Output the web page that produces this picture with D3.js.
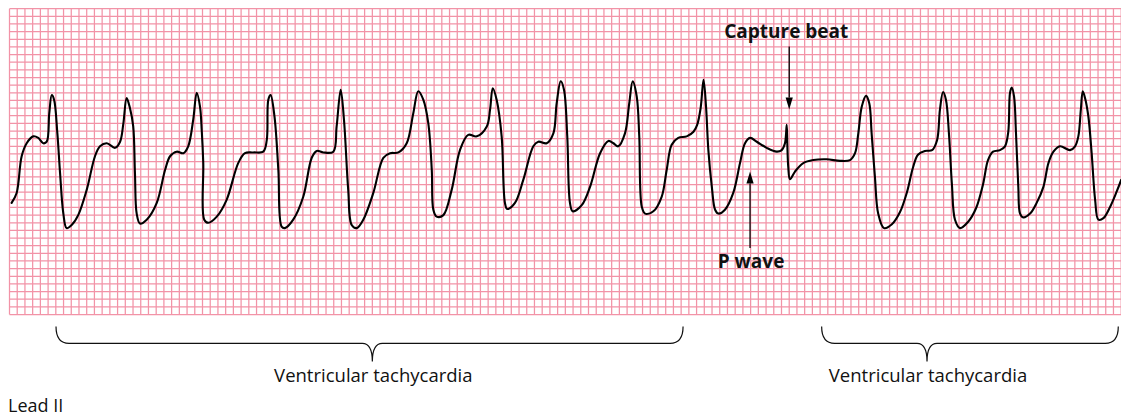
<!DOCTYPE html>
<html>
<head>
<meta charset="utf-8">
<script src="https://cdn.jsdelivr.net/npm/d3@7"></script>
<style>
  html, body { margin: 0; padding: 0; background: #ffffff; }
  svg { display: block; }
  text { font-family: "Open Sans", "Noto Sans", sans-serif; fill: #111; }
</style>
</head>
<body>
<script>
// Lead II rhythm strip: time in seconds (25 mm/s paper), amplitude in mV (10 mm/mV)
const leadII_time = [
  0.011, 0.037, 0.063, 0.089, 0.123, 0.149, 0.175, 0.193, 0.206, 0.219, 0.231, 0.248, 0.262, 0.279, 0.296, 0.322, 0.356,
  0.400, 0.443, 0.469, 0.504, 0.547, 0.573, 0.590, 0.607, 0.624, 0.641, 0.650, 0.659, 0.676, 0.711, 0.763,
  0.806, 0.832, 0.866, 0.901, 0.926, 0.952, 0.970, 0.987, 0.996, 1.004, 1.009, 1.030, 1.074, 1.125,
  1.185, 1.220, 1.263, 1.315, 1.333, 1.341, 1.353, 1.373, 1.393, 1.410, 1.427,
  1.470, 1.522, 1.566, 1.592, 1.626, 1.678, 1.695, 1.716, 1.733, 1.755, 1.773, 1.799,
  1.833, 1.885, 1.937, 1.972, 2.015, 2.058, 2.092, 2.118, 2.144, 2.170, 2.188, 2.196, 2.213, 2.248,
  2.291, 2.334, 2.377, 2.421, 2.473, 2.490, 2.504, 2.524, 2.550, 2.567, 2.579, 2.619,
  2.662, 2.714, 2.740, 2.783, 2.818, 2.835, 2.856, 2.873, 2.890, 2.904, 2.918, 2.965,
  3.008, 3.060, 3.103, 3.129, 3.154, 3.189, 3.211, 3.229, 3.250, 3.263, 3.276, 3.293,
  3.336, 3.379, 3.405, 3.431, 3.465, 3.509, 3.544, 3.563, 3.581, 3.596, 3.609, 3.621, 3.639, 3.656, 3.673,
  3.707, 3.750, 3.785, 3.811, 3.837, 3.872, 3.923, 3.975, 4.001, 4.018, 4.027, 4.030, 4.035, 4.044,
  4.070, 4.113, 4.165, 4.234, 4.303, 4.355, 4.381, 4.398, 4.416, 4.438, 4.455, 4.467, 4.484, 4.501,
  4.531, 4.572, 4.614, 4.650, 4.681, 4.707, 4.743, 4.780, 4.806, 4.821, 4.837, 4.852, 4.868, 4.883, 4.899,
  4.925, 4.966, 5.008, 5.044, 5.070, 5.096, 5.132, 5.158, 5.175, 5.184, 5.193, 5.205, 5.215, 5.227, 5.236,
  5.253, 5.288, 5.322, 5.357, 5.383, 5.409, 5.443, 5.495, 5.521, 5.538, 5.551, 5.561, 5.573, 5.590, 5.607,
  5.625, 5.642, 5.668, 5.703, 5.737, 5.760
];
const leadII_mV = [
  -0.54, -0.41, 0.07, 0.24, 0.33, 0.31, 0.24, 0.26, 0.63, 0.87, 0.81, 0.37, -0.15, -0.68, -0.87, -0.83, -0.70,
  -0.37, 0.07, 0.20, 0.24, 0.18, 0.26, 0.50, 0.83, 0.70, 0.46, -0.15, -0.68, -0.81, -0.76, -0.54,
  -0.11, 0.07, 0.13, 0.11, 0.20, 0.55, 0.90, 0.72, 0.41, -0.02, -0.76, -0.80, -0.72, -0.50,
  -0.02, 0.11, 0.12, 0.13, 0.28, 0.81, 0.87, 0.59, -0.11, -0.85, -0.87,
  -0.76, -0.46, 0.05, 0.14, 0.12, 0.13, 0.46, 0.94, 0.55, -0.37, -0.83, -0.87,
  -0.76, -0.41, 0.05, 0.11, 0.12, 0.24, 0.63, 0.92, 0.81, 0.50, -0.11, -0.63, -0.72, -0.70,
  -0.37, 0.15, 0.35, 0.33, 0.46, 0.68, 0.96, 0.81, 0.33, -0.54, -0.62, -0.54,
  -0.24, 0.20, 0.26, 0.24, 0.37, 0.76, 1.05, 0.94, 0.33, -0.54, -0.65, -0.57,
  -0.33, 0.11, 0.27, 0.24, 0.20, 0.37, 0.76, 1.05, 0.85, 0.33, -0.59, -0.68,
  -0.65, -0.46, -0.11, 0.22, 0.31, 0.33, 0.39, 0.48, 0.70, 1.07, 0.72, 0.15, -0.33, -0.63, -0.68,
  -0.63, -0.41, -0.02, 0.24, 0.31, 0.26, 0.18, 0.13, 0.15, 0.24, 0.48, 0.24, -0.07, -0.23,
  -0.13, -0.02, 0.02, 0.03, 0.01, 0.02, 0.11, 0.37, 0.72, 0.86, 0.76, 0.37, -0.20, -0.68,
  -0.87, -0.82, -0.66, -0.40, -0.08, 0.09, 0.14, 0.15, 0.28, 0.68, 0.91, 0.81, 0.35, -0.30, -0.76,
  -0.87, -0.79, -0.61, -0.30, 0.02, 0.13, 0.15, 0.20, 0.39, 0.90, 0.97, 0.85, 0.37, -0.33, -0.68,
  -0.73, -0.68, -0.54, -0.33, -0.02, 0.13, 0.20, 0.15, 0.20, 0.33, 0.68, 0.92, 0.83, 0.59, 0.11,
  -0.50, -0.76, -0.74, -0.59, -0.39, -0.24
];

// Paper grid: 0.04 s and 0.1 mV per small box
const stripSeconds = [0, 5.76];
const stripMillivolts = [-2, 2];
const boxSeconds = 0.04;
const boxMillivolts = 0.1;

// Arrow callouts
const calloutLabels = ["Capture beat", "P wave"];
const calloutTime = [4.040, 3.837];
const calloutTipMV = [0.68, -0.13];
const calloutTailMV = [1.505, -1.13];

// Rhythm braces under the strip
const rhythmLabels = ["Ventricular tachycardia", "Ventricular tachycardia"];
const rhythmStart = [0.241, 4.208];
const rhythmEnd = [3.490, 5.745];
const rhythmMid = [1.880, 4.754];

const leadLabel = "Lead II";

const W = 1121, H = 416;
const svg = d3.select("body").append("svg").attr("width", W).attr("height", H);
svg.append("rect").attr("width", W).attr("height", H).attr("fill", "#fff");

const x = d3.scaleLinear().domain(stripSeconds).range([9.5, 9.5 + 193 * stripSeconds[1]]);
const y = d3.scaleLinear().domain(stripMillivolts).range([314.5, 8.7]);

// grid
const grid = svg.append("g").attr("stroke", "#f293a7").attr("stroke-width", 1.25);
const nCols = Math.round((stripSeconds[1] - stripSeconds[0]) / boxSeconds);
const nRows = Math.round((stripMillivolts[1] - stripMillivolts[0]) / boxMillivolts);
const colTimes = d3.range(nCols + 1).map(i => stripSeconds[0] + i * boxSeconds);
const rowMV = d3.range(nRows + 1).map(i => stripMillivolts[0] + i * boxMillivolts);
grid.selectAll("line.v").data(colTimes).join("line").attr("class", "v")
  .attr("x1", d => x(d)).attr("x2", d => x(d))
  .attr("y1", y(stripMillivolts[1])).attr("y2", y(stripMillivolts[0]));
grid.selectAll("line.h").data(rowMV).join("line").attr("class", "h")
  .attr("y1", d => y(d)).attr("y2", d => y(d))
  .attr("x1", x(stripSeconds[0])).attr("x2", W);

// trace
const pts = leadII_time.map((t, i) => [t, leadII_mV[i]]);
const line = d3.line().x(d => x(d[0])).y(d => y(d[1])).curve(d3.curveCatmullRom.alpha(0.5));
svg.append("path").attr("d", line(pts)).attr("fill", "none")
  .attr("stroke", "#000").attr("stroke-width", 2.1).attr("stroke-linejoin", "round").attr("stroke-linecap", "round");

// callouts
calloutLabels.forEach((lab, i) => {
  const cx = x(calloutTime[i]);
  const tip = y(calloutTipMV[i]);
  const tail = y(calloutTailMV[i]);
  const dir = tip > tail ? 1 : -1; // arrow pointing down (1) or up (-1)
  const headLen = 12, headHalf = 3.6;
  svg.append("line").attr("x1", cx).attr("x2", cx).attr("y1", tail).attr("y2", tip - dir * headLen)
    .attr("stroke", "#000").attr("stroke-width", 1.3);
  svg.append("path")
    .attr("d", `M${cx},${tip} L${cx - headHalf},${tip - dir * headLen} L${cx + headHalf},${tip - dir * headLen} Z`)
    .attr("fill", "#000");
  svg.append("text").attr("x", dir > 0 ? cx - 3 : cx + 1).attr("y", dir > 0 ? tail - 9 : tail + 20)
    .attr("text-anchor", "middle").attr("font-weight", 700).attr("font-size", 19)
    .text(lab);
});

// braces
const yTop = 326.5, yMid = 343.3, yTip = 361.5;
rhythmLabels.forEach((lab, i) => {
  const x0 = x(rhythmStart[i]), x1 = x(rhythmEnd[i]), xm = x(rhythmMid[i]);
  const d = `M${x0},${yTop} C${x0},${yMid - 6} ${x0 + 4},${yMid} ${x0 + 13},${yMid}` +
            ` L${xm - 10},${yMid} Q${xm},${yMid} ${xm},${yTip}` +
            ` Q${xm},${yMid} ${xm + 10},${yMid} L${x1 - 13},${yMid}` +
            ` C${x1 - 4},${yMid} ${x1},${yMid - 6} ${x1},${yTop}`;
  svg.append("path").attr("d", d).attr("fill", "none").attr("stroke", "#111").attr("stroke-width", 1.2);
  svg.append("text").attr("x", xm + 1).attr("y", 381.5).attr("text-anchor", "middle")
    .attr("font-size", 18.5).text(lab);
});

svg.append("text").attr("x", 8).attr("y", 411.5).attr("font-size", 18).text(leadLabel);
</script>
</body>
</html>
